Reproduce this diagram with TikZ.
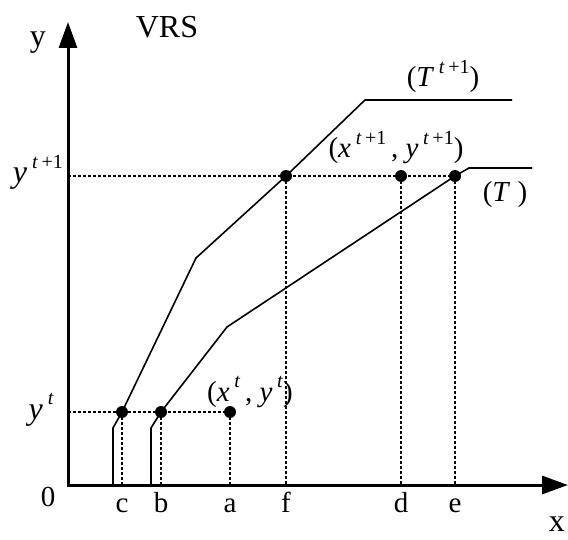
\documentclass[tikz,border=0pt]{standalone}
\usepackage{fontspec}
\setmainfont{Liberation Serif}
\usetikzlibrary{arrows.meta,positioning}

\newcommand{\supr}[1]{\hspace{0.16em}\raisebox{0.45em}{\fontsize{20}{20}\selectfont #1}}

\begin{document}
\begin{tikzpicture}[x=1pt, y=-1pt,
  axis/.style={line width=3pt, {Triangle[length=26pt,width=18pt]}-{Triangle[length=26pt,width=18pt]}},
  front/.style={line width=1.6pt},
  guide/.style={line width=1.5pt, dash pattern=on 3pt off 2pt},
  dot/.style={circle, fill, inner sep=0pt, minimum size=12pt},
  big/.style={font=\fontsize{32}{34}\selectfont, inner sep=0pt},
  lab/.style={font=\fontsize{29}{31}\selectfont, inner sep=0pt}]
  \useasboundingbox (0,0) rectangle (568,540);

  % axes
  \coordinate (O) at (68,485);
  \coordinate (ytop) at (68,22);
  \coordinate (xend) at (568,485);
  \draw[axis, line join=miter] (ytop) -- (O) -- (xend);
  \node[big] (ylab) at (38,43) {y};
  \node[big] (vrs) at (167,27) {VRS};
  \node[big, anchor=base east] (xlab) at (565,531) {x};
  \node[lab] (zero) at (48,497) {0};

  % points on the two levels
  \node[dot] (c) at (122,412) {};
  \node[dot] (b) at (161,412) {};
  \node[dot] (a) at (230,412) {};
  \node[dot] (f) at (286,176) {};
  \node[dot] (d) at (401,176) {};
  \node[dot] (e) at (455,176) {};

  % dotted guides
  \draw[guide] (O |- a) -- (a.center);
  \draw[guide] (O |- e) -- (e.center);
  \foreach \p in {c,b,a,f,d,e}
    \draw[guide] (\p.center) -- (\p |- O);

  % frontiers
  \draw[front] (113,485) -- (113,428) -- (c.center) -- (196,258) -- (f.center) -- (365,100) -- (512,100);
  \draw[front] (151,485) -- (151,428) -- (b.center) -- (227,327) -- (e.center) -- (469,168) -- (532,168);

  % tick labels
  \foreach \p/\t in {c/c,b/b,a/a,f/f,d/d,e/e}
    \node[lab, anchor=base] (t\p) at ([yshift=-27pt]\p |- O) {\t};

  % level labels
  \node[big, anchor=base east] (ynext) at (63,183) {\textit{y}\supr{\textit{t}\,+1}};
  \node[big, anchor=base east] (ynow) at (54,419) {\textit{y}\supr{\textit{t}}};

  % point and frontier labels
  \node[lab, anchor=base] (pnow) at (250,401) {(\textit{x}\supr{\textit{t}}\,, \textit{y}\supr{\textit{t}})};
  \node[lab, anchor=base] (pnext) at (396,158) {(\textit{x}\supr{\textit{t}\,+1}\,, \textit{y}\supr{\textit{t}\,+1})};
  \node[lab, anchor=base] (tnext) at (443,87) {(\textit{T}\supr{\textit{t}\,+1})};
  \node[lab, anchor=base] (tnow) at (505,202) {(\textit{T}\ )};
\end{tikzpicture}
\end{document}
